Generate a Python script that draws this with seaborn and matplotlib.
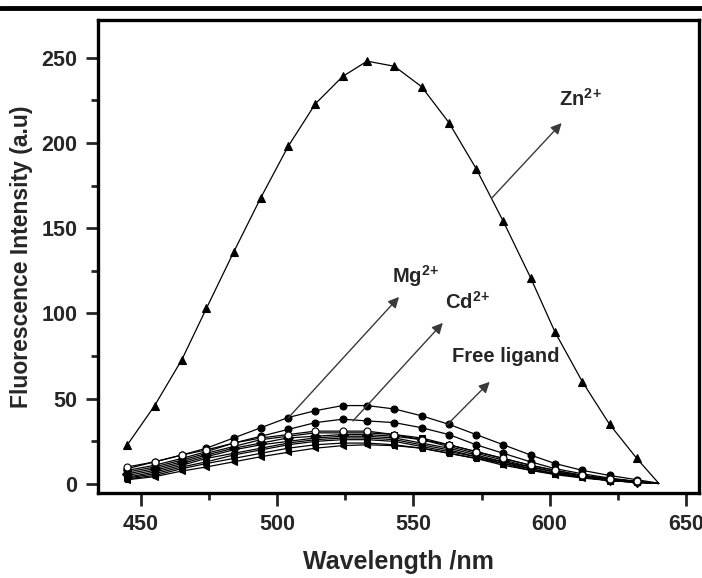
import matplotlib
matplotlib.use("Agg")
import matplotlib.pyplot as plt
import seaborn as sns
import pandas as pd

# wavelength grid (nm), last point is the unmarked end of the fitted curves
wavelength = [445, 455, 465, 474, 484, 494, 504, 514, 524, 533, 543,
              553, 563, 573, 583, 593, 602, 612, 622, 632, 640]

zn   = [23, 46, 73, 103, 136, 168, 198, 223, 239, 248, 245, 233, 212, 185, 154, 121, 89, 60, 35, 15, 0.5]
mg   = [9, 13, 17, 21, 27, 33, 39, 43, 46, 46, 44, 40, 35, 29, 23, 17, 12, 8, 5, 2.5, 0.5]
cd   = [8, 11, 15, 19, 24, 28, 32, 36, 38, 37, 36, 33, 29, 23, 18, 13, 9, 6, 3.5, 1.5, 0.3]
c3   = [10, 13, 17, 20, 24, 27, 29, 31, 31, 31, 29, 26, 23, 19, 15, 11, 8, 5, 3, 1.5, 0.3]
c4   = [7, 10, 14, 18, 22, 26, 28, 30, 30, 30, 29, 27, 23, 19, 15, 11, 8, 5, 3, 1.5, 0.3]
c5   = [6, 9, 13, 17, 21, 24, 27, 28, 29, 29, 28, 26, 22, 18, 14, 10, 7, 5, 2.5, 1.2, 0.3]
c6   = [5, 8, 12, 16, 20, 23, 25, 27, 28, 28, 27, 24, 21, 17, 13, 10, 7, 4, 2.5, 1.2, 0.3]
c7   = [4, 7, 11, 15, 18, 21, 24, 26, 27, 27, 26, 23, 20, 16, 13, 9, 6, 4, 2, 1, 0.3]
c8   = [3.5, 6, 10, 13, 17, 20, 23, 25, 26, 26, 25, 22, 19, 16, 12, 9, 6, 4, 2, 1, 0.3]
c9   = [3, 5, 9, 12, 15, 18, 21, 23, 24, 24, 23, 21, 18, 15, 12, 8, 6, 4, 2, 1, 0.3]
c10  = [2.5, 4.3, 7.6, 10, 13, 16, 18.6, 21, 22.5, 23, 22.5, 21, 18, 15, 11, 8, 5.5, 3.5, 2, 1, 0.3]

series = {"Zn": zn, "Mg": mg, "Cd": cd, "c3": c3, "c4": c4, "c5": c5,
          "c6": c6, "c7": c7, "c8": c8, "c9": c9, "c10": c10}
markers = {"Zn": "^", "Mg": "o", "Cd": "o", "c3": "o", "c4": "s", "c5": "D",
           "c6": "v", "c7": "<", "c8": ">", "c9": "p", "c10": "<"}

# label text, arrow tail (on curve) and head, all in data units
labels = [r"Zn$^{2\!+}$", r"Mg$^{2\!+}$", r"Cd$^{2\!+}$", "Free ligand"]
label_pos = [(603.5, 226), (542, 122), (561.5, 107), (564, 74.5)]
arrow_tail = [(578.7, 167.6), (504, 38.7), (527.8, 37), (562.3, 34.6)]
arrow_head = [(604.4, 211.7), (544.7, 109.7), (560.8, 94.5), (578, 59.9)]

sns.set_style("ticks")
plt.rcParams["font.family"] = ["Liberation Sans", "DejaVu Sans"]
plt.rcParams["font.weight"] = "bold"
plt.rcParams["mathtext.fontset"] = "custom"
plt.rcParams["mathtext.rm"] = "Liberation Sans:bold"
plt.rcParams["mathtext.it"] = "Liberation Sans:bold"
plt.rcParams["mathtext.bf"] = "Liberation Sans:bold"

fig = plt.figure(figsize=(7.02, 5.78), dpi=100)
ax = fig.add_axes([0.1396, 0.147, 0.856, 0.818])

df = pd.DataFrame({"wavelength": wavelength})
n_marked = len(wavelength) - 1
for name, vals in series.items():
    df[name] = vals
    face = "white" if name == "c3" else "black"
    sns.lineplot(data=df, x="wavelength", y=name, ax=ax, color="black", lw=0.9,
                 marker=markers[name], markersize=5 if name != "Zn" else 5.5,
                 markerfacecolor=face, markeredgecolor="black", markeredgewidth=0.8,
                 markevery=list(range(n_marked)), zorder=3 if name == "c3" else 2)

for txt, pos, tail, head in zip(labels, label_pos, arrow_tail, arrow_head):
    ax.annotate("", xy=head, xytext=tail,
                arrowprops=dict(arrowstyle="-|>", color="#3a3a3a", lw=1.0,
                                mutation_scale=16, shrinkA=0, shrinkB=0))
    ax.text(pos[0], pos[1], txt, fontsize=14.5, fontweight="bold", ha="left", va="center")

ax.set_xlim(434.2, 654.8)
ax.set_ylim(-5.3, 272)
ax.set_xticks([450, 500, 550, 600, 650])
ax.set_xticks([475, 525, 575, 625], minor=True)
ax.set_yticks([0, 50, 100, 150, 200, 250])
ax.set_yticks([25, 75, 125, 175, 225], minor=True)
ax.tick_params(which="major", direction="out", length=9, width=2, labelsize=15.5, pad=6)
ax.tick_params(which="minor", direction="out", length=5, width=2)
for s in ax.spines.values():
    s.set_linewidth(2.4)
    s.set_color("black")
ax.set_xlabel("Wavelength /nm", fontsize=18, fontweight="bold", labelpad=11)
ax.set_ylabel("Fluorescence Intensity (a.u)", fontsize=16.5, fontweight="bold", labelpad=6)

# page-crop rule at the very top
fig.add_artist(plt.Line2D([0, 1], [0.986, 0.986], color="black", lw=3.5))

fig.savefig("out.png", dpi=100)
